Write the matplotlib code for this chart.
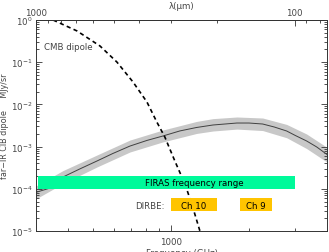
import matplotlib
matplotlib.use("Agg")
import matplotlib.pyplot as plt
import matplotlib.ticker as mticker
from matplotlib.patches import Rectangle

# ---- data ----
cmb_nu = [349, 432, 530, 616, 711, 805, 879, 944, 1032, 1129, 1200, 1290]
cmb_I = [1.0, 0.55, 0.242, 0.101, 0.034, 0.0114, 0.00383, 0.00169, 4.56e-4, 1.30e-4, 4.37e-5, 1.0e-5]

cib_nu = [299, 348, 381, 442, 516, 594, 692, 805, 927, 1079, 1253, 1449, 1794, 1997,
          2256, 2503, 2794, 3019, 3335, 3650, 4000]
cib_I = [8.2e-5, 1.09e-4, 1.9e-4, 2.94e-4, 4.56e-4, 6.86e-4, 1.03e-3, 1.40e-3, 1.78e-3,
         2.35e-3, 2.84e-3, 3.25e-3, 3.62e-3, 3.62e-3, 3.43e-3, 2.91e-3, 2.34e-3, 1.83e-3,
         1.36e-3, 9.8e-4, 6.5e-4]

band_nu = [299, 381, 516, 692, 927, 1253, 1449, 1794, 2256, 2794, 3335, 4000]
band_hi = [1.16e-4, 2.7e-4, 6.32e-4, 1.43e-3, 2.47e-3, 3.95e-3, 4.6e-3, 5.03e-3, 4.76e-3,
           3.35e-3, 1.99e-3, 9.6e-4]
band_lo = [5.73e-5, 1.33e-4, 3.29e-4, 7.45e-4, 1.29e-3, 2.05e-3, 2.34e-3, 2.6e-3, 2.4e-3,
           1.62e-3, 9.0e-4, 4.3e-4]

firas_range = (305, 3000)
firas_I = (1.0e-4, 2.0e-4)
dirbe_names = ["Ch 10", "Ch 9"]
dirbe_lo = [1000, 1840]
dirbe_hi = [1500, 2450]
dirbe_I = (3.0e-5, 6.0e-5)

x_lim = (299.79, 4000)
y_lim = (1e-5, 1.0)
C_UM = 299792.458  # GHz * um

txt_col = "#444444"
fs = 6.2

fig = plt.figure(figsize=(3.29, 2.53), dpi=100)
ax = fig.add_axes([36 / 329, 21 / 253, 291 / 329, 211 / 253])
ax.set_xscale("log")
ax.set_yscale("log")
ax.set_xlim(*x_lim)
ax.set_ylim(*y_lim)

ax.fill_between(band_nu, band_lo, band_hi, color="#c8c8c8", lw=0, zorder=1)
ax.plot(cib_nu, cib_I, color="#404040", lw=0.7, zorder=2)
ax.plot(cmb_nu, cmb_I, color="black", lw=1.2, linestyle=(0, (2.5, 2.0)), zorder=2)

ax.add_patch(Rectangle((firas_range[0], firas_I[0]), firas_range[1] - firas_range[0],
                       firas_I[1] - firas_I[0], facecolor="#00fa9a", edgecolor="none", zorder=3))
ax.text(790, (firas_I[0] * firas_I[1]) ** 0.5, "FIRAS frequency range", fontsize=fs,
        color="black", ha="left", va="center", zorder=5)
for name, lo, hi in zip(dirbe_names, dirbe_lo, dirbe_hi):
    ax.add_patch(Rectangle((lo, dirbe_I[0]), hi - lo, dirbe_I[1] - dirbe_I[0],
                           facecolor="#ffc400", edgecolor="none", zorder=3))
    ax.text((lo * hi) ** 0.5, (dirbe_I[0] * dirbe_I[1]) ** 0.5 * 0.93, name, fontsize=fs,
            color="black", ha="center", va="center", zorder=5)
ax.text(940, (dirbe_I[0] * dirbe_I[1]) ** 0.5 * 0.93, "DIRBE:", fontsize=fs, color=txt_col,
        ha="right", va="center", zorder=5)
ax.text(322, 0.23, "CMB dipole", fontsize=fs, color=txt_col, ha="left", va="center")

# axes styling
for s in ax.spines.values():
    s.set_linewidth(0.7)
    s.set_color("#333333")
ax.tick_params(which="both", direction="in", top=False, right=True, colors="#333333",
               labelcolor=txt_col, labelsize=fs, width=0.6)
ax.tick_params(which="major", length=4.5, pad=2.5)
ax.tick_params(which="minor", length=2.5)
ax.tick_params(axis="x", which="major", pad=4)
ax.xaxis.set_major_locator(mticker.FixedLocator([1000]))
ax.xaxis.set_major_formatter(mticker.FuncFormatter(lambda v, p: f"{v:.0f}"))
ax.xaxis.set_minor_locator(mticker.FixedLocator([400, 500, 600, 700, 800, 900, 2000, 3000]))
ax.xaxis.set_minor_formatter(mticker.NullFormatter())
ax.yaxis.set_major_locator(mticker.LogLocator(base=10, numticks=10))
ax.yaxis.set_minor_locator(mticker.LogLocator(base=10, subs=range(2, 10), numticks=20))
ax.yaxis.set_minor_formatter(mticker.NullFormatter())

ax.set_xlabel("Frequency (GHz)", fontsize=fs, color=txt_col, labelpad=1.5)
ax.set_ylabel("far\u2212IR CIB dipole     MJy/sr", fontsize=5.8, color=txt_col)
ax.yaxis.set_label_coords(-0.094, 0.5)

sec = ax.secondary_xaxis("top", functions=(lambda x: C_UM / x, lambda x: C_UM / x))
sec.spines["top"].set_linewidth(0.7)
sec.spines["top"].set_color("#333333")
sec.xaxis.set_major_locator(mticker.FixedLocator([100, 1000]))
sec.xaxis.set_major_formatter(mticker.FuncFormatter(lambda v, p: f"{v:.0f}"))
sec.xaxis.set_minor_locator(mticker.FixedLocator([80, 90, 200, 300, 400, 500, 600, 700, 800, 900]))
sec.xaxis.set_minor_formatter(mticker.NullFormatter())
sec.tick_params(which="both", direction="in", colors="#333333", labelcolor=txt_col,
                labelsize=fs, width=0.6, pad=2)
sec.tick_params(which="major", length=4.5)
sec.tick_params(which="minor", length=2.5)
sec.set_xlabel("λ(μm)", fontsize=fs, color=txt_col, labelpad=0)

fig.savefig("out.png", dpi=100)
